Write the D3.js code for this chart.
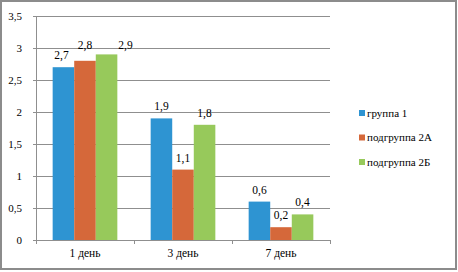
<!DOCTYPE html>
<html><head><meta charset="utf-8">
<script src="https://cdn.jsdelivr.net/npm/d3@7"></script>
<style>body{margin:0;background:#fff}svg{display:block}svg text{font-family:"Liberation Serif","DejaVu Serif",serif}</style>
</head><body>
<svg id="c" width="458" height="272"></svg>
<script>
const categories = ["1 день", "3 день", "7 день"];
const seriesNames = ["группа 1", "подгруппа 2А", "подгруппа 2Б"];
const group1 = [2.7, 1.9, 0.6];
const sub2A = [2.8, 1.1, 0.2];
const sub2B = [2.9, 1.8, 0.4];
const yTicks = [0, 0.5, 1, 1.5, 2, 2.5, 3, 3.5];
const colors = ["#2e94d2", "#d5683a", "#97c95b"];

(function () {
const series = [group1, sub2A, sub2B];
const fmt = v => String(v).replace(".", ",");
const svg = d3.select("#c");
const font = '"Liberation Serif", "DejaVu Serif", serif';

svg.append("rect").attr("x", 1).attr("y", 1).attr("width", 455).attr("height", 268)
  .attr("fill", "#fff").attr("stroke", "#8c8c8c").attr("stroke-width", 2);

const pLeft = 36, pRight = 330, pTop = 16, pBottom = 240;
const x = d3.scaleBand().domain(categories).range([pLeft, pRight]).paddingInner(0.34).paddingOuter(0.17);
const xs = d3.scaleBand().domain(d3.range(3)).range([0, x.bandwidth()]);
const y = d3.scaleLinear().domain([0, 3.5]).range([pBottom, pTop]);

svg.append("g").selectAll("line").data(yTicks.filter(t => t > 0)).join("line")
  .attr("x1", pLeft).attr("x2", pRight).attr("y1", d => y(d)).attr("y2", d => y(d))
  .attr("stroke", "#8f8f8f").attr("stroke-width", 1).attr("shape-rendering", "crispEdges");

const yAxis = svg.append("g").attr("transform", `translate(${pLeft},0)`)
  .call(d3.axisLeft(y).tickValues(yTicks).tickFormat(fmt).tickSize(3).tickPadding(11));
yAxis.attr("font-family", font);
yAxis.select(".domain").attr("stroke", "#8f8f8f");
yAxis.selectAll(".tick line").attr("stroke", "#8f8f8f");
yAxis.selectAll("text").attr("font-family", font).attr("font-size", 11).attr("fill", "#000");

const g = svg.append("g");
categories.forEach((c, ci) => {
  series.forEach((s, si) => {
    g.append("rect").attr("x", x(c) + xs(si)).attr("y", y(s[ci]))
      .attr("width", xs.bandwidth()).attr("height", y(0) - y(s[ci])).attr("fill", colors[si]);
  });
});

const xAxis = svg.append("g").attr("transform", `translate(0,${pBottom})`)
  .call(d3.axisBottom(x).tickSize(0).tickPadding(9));
xAxis.attr("font-family", font);
xAxis.select(".domain").attr("stroke", "#8f8f8f");
xAxis.selectAll("text").attr("font-family", font).attr("font-size", 11.5).attr("fill", "#000");
const step = x.step();
svg.append("g").selectAll("line").data(d3.range(categories.length + 1)).join("line")
  .attr("x1", d => pLeft + d * step).attr("x2", d => pLeft + d * step)
  .attr("y1", pBottom).attr("y2", pBottom + 4).attr("stroke", "#8f8f8f").attr("shape-rendering", "crispEdges");

categories.forEach((c, ci) => {
  series.forEach((s, si) => {
    let cx = x(c) + xs(si) + xs.bandwidth() / 2;
    let cy = y(s[ci]) - 8;
    if (ci === 0 && si === 2) { cx += 19; cy += 3; }
    if (ci === 0 && si === 1) { cy -= 4; }
    if (ci === 0 && si === 0) { cx -= 2; }
    g.append("text").attr("x", cx).attr("y", cy).attr("text-anchor", "middle")
      .attr("font-family", font).attr("font-size", 11.5).attr("fill", "#000").text(fmt(s[ci]));
  });
});

const lg = svg.append("g");
seriesNames.forEach((n, i) => {
  const ly = 113 + i * 24.5;
  lg.append("rect").attr("x", 359).attr("y", ly - 3).attr("width", 6).attr("height", 6).attr("fill", colors[i]);
  lg.append("text").attr("x", 367).attr("y", ly + 3.5).attr("font-family", font).attr("font-size", 11)
    .attr("fill", "#000").text(n);
});
})();
</script>
</body></html>
